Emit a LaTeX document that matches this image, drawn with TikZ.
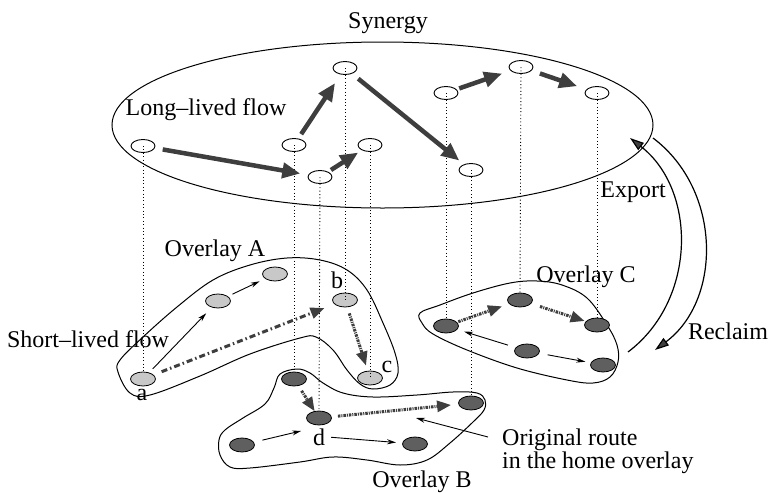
\documentclass[tikz,border=0pt]{standalone}
\usepackage{fontspec}
\setmainfont{Liberation Serif}
\usetikzlibrary{shapes.geometric,arrows.meta}
\definecolor{arrowgray}{RGB}{62,62,62}
\definecolor{lightnode}{RGB}{200,200,200}
\definecolor{darknode}{RGB}{95,95,95}
\begin{document}
\begin{tikzpicture}[x=1pt,y=-1pt,font=\fontsize{24}{28}\selectfont,
  syn/.style={ellipse,draw,line width=0.9pt,minimum width=24pt,minimum height=13pt,inner sep=0pt},
  ovl/.style={ellipse,draw,line width=0.8pt,fill=lightnode,minimum width=25pt,minimum height=14pt,inner sep=0pt},
  ovd/.style={ovl,fill=darknode},
  vline/.style={line width=0.9pt,dash pattern=on 1pt off 2.4pt},
  outline/.style={line width=1pt},
  bigarrow/.style={line width=4.5pt,draw=arrowgray,-{Triangle[length=18pt,width=15pt,fill=arrowgray]}},
  dasharrow/.style={line width=3pt,draw=arrowgray,dash pattern=on 6pt off 3pt on 1.5pt off 3pt,-{Triangle[length=14pt,width=11pt,fill=arrowgray]}},
  densearrow/.style={line width=3pt,draw=arrowgray,dash pattern=on 2.5pt off 1pt on 1pt off 1pt,-{Triangle[length=14pt,width=11pt,fill=arrowgray]}},
  thinarrow/.style={line width=0.9pt,-{Stealth[length=9pt,width=5pt]}},
  curvearrow/.style={line width=1.2pt,-{Triangle[length=14pt,width=9pt,fill=arrowgray]}},
  lbl/.style={inner sep=0pt,anchor=base},
  lblw/.style={inner sep=0pt,anchor=base west},
  letter/.style={inner sep=0pt,anchor=base}
]
\useasboundingbox (0,0) rectangle (769,493);

% synergy ellipse
\draw[outline] (382.5,125) ellipse [x radius=270.5, y radius=83];

% synergy nodes
\node[syn] (S1) at (143,146) {};
\node[syn] (S2) at (320,177) {};
\node[syn] (S3) at (294,145) {};
\node[syn] (S4) at (345,68) {};
\node[syn] (S5) at (370,145) {};
\node[syn] (S6) at (471,170) {};
\node[syn] (S7) at (446,93) {};
\node[syn] (S8) at (521,67) {};
\node[syn] (S9) at (597,93) {};

% overlay outlines
\draw[outline] plot[smooth cycle,tension=0.6] coordinates {
 (118,372) (120,360) (143,337) (177,307) (213,280) (250,265) (287,258) (320,260) (347,270)
 (367,290) (383,323) (395,353) (398,373) (390,385) (373,389) (360,384) (347,370) (333,350)
 (316,337) (300,338) (250,354) (200,376) (150,395) (130,393)};
\draw[outline] plot[smooth cycle,tension=0.6] coordinates {
 (297,369) (310,373) (323,383) (343,393) (373,397) (417,395) (453,392) (477,393) (485,400)
 (484,410) (473,422) (450,443) (427,460) (400,465) (367,460) (333,457) (300,462) (250,468)
 (230,467) (220,455) (219,440) (225,430) (243,418) (265,404) (274,388) (280,374)};
\draw[outline] plot[smooth cycle,tension=0.6] coordinates {
 (420,313) (440,305) (473,293) (510,283) (537,281) (562,285) (587,298) (607,325) (617,345)
 (618,362) (610,377) (593,383) (567,380) (517,368) (467,350) (433,334) (422,323)};

% overlay nodes
\node[ovl] (a) at (143,379) {};
\node[ovl] (A2) at (218,301) {};
\node[ovl] (A3) at (275,274) {};
\node[ovl] (b) at (345,300) {};
\node[ovl] (c) at (370,378) {};
\node[ovd] (B1) at (294,379) {};
\node[ovd] (d) at (319,418) {};
\node[ovd] (B3) at (471,403) {};
\node[ovd] (B4) at (242,445) {};
\node[ovd] (B5) at (415,444) {};
\node[ovd] (C1) at (446,326) {};
\node[ovd] (C2) at (520,300) {};
\node[ovd] (C3) at (597,325) {};
\node[ovd] (C4) at (527,351) {};
\node[ovd] (C5) at (603,365) {};

% vertical dotted projections
\draw[vline] (S1.center) -- (a.north);
\draw[vline] (S3.center) -- (B1.north);
\draw[vline] (S2.center) -- (d.north);
\draw[vline] (S4.center) -- (b.center);
\draw[vline] (S5.center) -- (c.center);
\draw[vline] (S7.center) -- (C1.north);
\draw[vline] (S6.center) -- (B3.north);
\draw[vline] (S8.center) -- (C2.north);
\draw[vline] (S9.center) -- (C3.north);

% long-lived flow arrows
\draw[bigarrow,shorten <=20pt,shorten >=20pt] (S1.center) -- (S2.center);
\draw[bigarrow,shorten <=13pt,shorten >=18pt] (S3.center) -- (S4.center);
\draw[bigarrow,shorten <=13pt,shorten >=14pt] (S2.center) -- (S5.center);
\draw[bigarrow,shorten <=17pt,shorten >=15pt] (S4.center) -- (S6.center);
\draw[bigarrow,shorten <=14pt,shorten >=20pt] (S7.center) -- (S8.center);
\draw[bigarrow,shorten <=20pt,shorten >=21pt] (S8.center) -- (S9.center);

% overlay A
\draw[thinarrow,shorten <=14pt,shorten >=17pt] (a.center) -- (A2.center);
\draw[thinarrow,shorten <=16pt,shorten >=17pt] (A2.center) -- (A3.center);
\draw[dasharrow,shorten <=20pt,shorten >=22pt] (a.center) -- (b.center);
\draw[densearrow,shorten <=14pt,shorten >=13pt] (b.center) -- (c.center);

% labels
\node[lbl] (syn) at (388,28) {Synergy};
\node[lbl] (llf) at (206,115) {Long–lived flow};
\node[lbl] (slf) at (88,347) {Short–lived flow};
\node[lbl] (oa) at (215,256) {Overlay A};
\node[lbl] (ob) at (422,487) {Overlay B};
\node[lbl] (oc) at (586,282) {Overlay C};
\node[lbl] (exp) at (633,197) {Export};
\node[lbl] (rec) at (728,339) {Reclaim};
\node[lblw] (or1) at (502,445) {Original route};
\node[lblw] (or2) at (502,468) {in the home overlay};
\node[letter] (la) at (142,400) {a};
\node[letter] (lb) at (337,288) {b};
\node[letter] (lc) at (387,372) {c};
\node[letter] (ld) at (319,445) {d};

% overlay B
\draw[densearrow,shorten <=14pt,shorten >=8pt] (B1.center) -- (d.center);
\draw[densearrow,shorten <=19pt,shorten >=20pt] (d.center) -- (B3.center);
\draw[thinarrow,shorten <=21pt,shorten >=12pt] (B4.center) -- (ld.north west);
\draw[thinarrow,shorten <=6pt,shorten >=19pt] (ld.east) -- (B5.center);

% overlay C
\draw[densearrow,shorten <=13pt,shorten >=19pt] (C1.center) -- (C2.center);
\draw[densearrow,shorten <=21pt,shorten >=13pt] (C2.center) -- (C3.center);
\draw[thinarrow,shorten <=20pt,shorten >=19pt] (C4.center) -- (C1.center);
\draw[thinarrow,shorten <=21pt,shorten >=18pt] (C4.center) -- (C5.center);

% original route pointer
\coordinate (rt) at (416,418);
\coordinate (rs) at (488,437);
\draw[thinarrow] (rs) -- (rt);

% export / reclaim
\coordinate (e1) at (628,352);
\coordinate (e2) at (630,138);
\coordinate (r1) at (653,138);
\coordinate (r2) at (655,350);
\draw[curvearrow] (e1) .. controls (697,300) and (697,190) .. (e2);
\draw[curvearrow] (r1) .. controls (722,190) and (722,300) .. (r2);
\end{tikzpicture}
\end{document}
